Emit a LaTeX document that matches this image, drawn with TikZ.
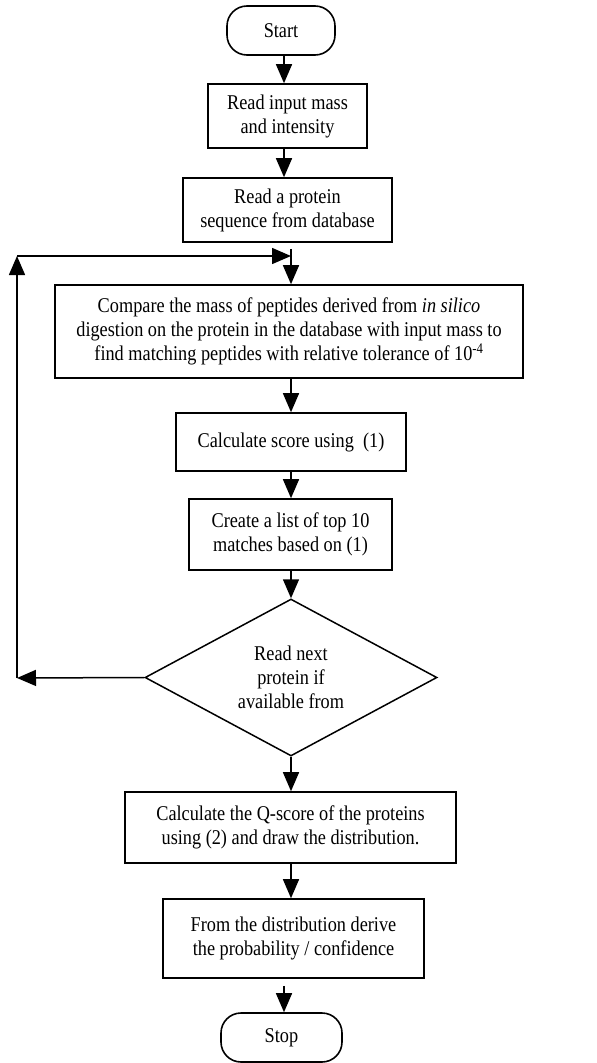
\documentclass[tikz,border=0pt]{standalone}
\usepackage{fontspec}
\setmainfont{Liberation Serif}[FakeStretch=0.87]
\usetikzlibrary{arrows.meta,shapes.geometric}
\begin{document}
\begin{tikzpicture}[x=1pt,y=-1pt,
  every node/.style={font=\fontsize{21}{24}\selectfont, align=center, inner sep=0pt},
  procbox/.style={draw, line width=1.6pt, rectangle},
  termbox/.style={draw, line width=1.6pt, rectangle, rounded corners=20pt},
  decbox/.style={draw, line width=1.5pt, diamond, aspect=1.86},
  arr/.style={line width=1.5pt, -{Triangle[width=16pt,length=19pt]}},
  plain/.style={line width=1.5pt}]
\useasboundingbox (0,0) rectangle (597,1063);
\node[termbox, minimum width=108pt, minimum height=49pt] (start) at (281,30.5) {Start};
\node[procbox, minimum width=159pt, minimum height=64pt] (box1) at (287.5,116) {Read input mass\\and intensity};
\node[procbox, minimum width=209pt, minimum height=64pt] (box2) at (287.5,210) {Read a protein\\sequence from database};
\node[procbox, minimum width=468pt, minimum height=93pt] (box3) at (289,331.5) {Compare the mass of peptides derived from \textit{in silico}\\digestion on the protein in the database with input mass to\\find matching peptides with relative tolerance of 10\textsuperscript{-4}};
\node[procbox, minimum width=230pt, minimum height=58pt] (box4) at (291,442) {Calculate score using\ \ (1)};
\node[procbox, minimum width=203pt, minimum height=71pt] (box5) at (290.5,534.5) {Create a list of top 10\\matches based on (1)};
\node[decbox, minimum width=292pt, minimum height=157pt] (dia) at (291,677.5) {Read next\\protein if\\available from};
\node[procbox, minimum width=331pt, minimum height=71pt] (box6) at (290.5,827.5) {Calculate the Q-score of the proteins\\using (2) and draw the distribution.};
\node[procbox, minimum width=261pt, minimum height=79pt] (box7) at (293.5,938.5) {From the distribution derive\\the probability / confidence};
\node[termbox, minimum width=121pt, minimum height=49pt] (stop) at (281.5,1037.5) {Stop};
\coordinate (join) at (291,256);
\coordinate (lc) at (17,256);
\coordinate (ld) at (17,678);
\draw[arr] (start.south -| 284,0) -- (box1.north -| 284,0);
\draw[arr] (box1.south -| 284,0) -- (box2.north -| 284,0);
\draw[arr, shorten <=6pt] (box2.south -| 291,0) -- (box3.north -| 291,0);
\draw[arr] (box3.south -| 291,0) -- (box4.north -| 291,0);
\draw[arr] (box4.south -| 291,0) -- (box5.north -| 291,0);
\draw[arr] (box5.south -| 291,0) -- (dia.north);
\draw[arr] (dia.south) -- (box6.north -| 291,0);
\draw[arr] (box6.south -| 291,0) -- (box7.north -| 291,0);
\draw[arr, shorten <=7pt] (box7.south -| 284,0) -- (stop.north -| 284,0);
\draw[arr] (dia.west) -- (ld);
\draw[arr] (ld) -- (lc);
\draw[arr] (lc) -- (join);
\end{tikzpicture}
\end{document}
